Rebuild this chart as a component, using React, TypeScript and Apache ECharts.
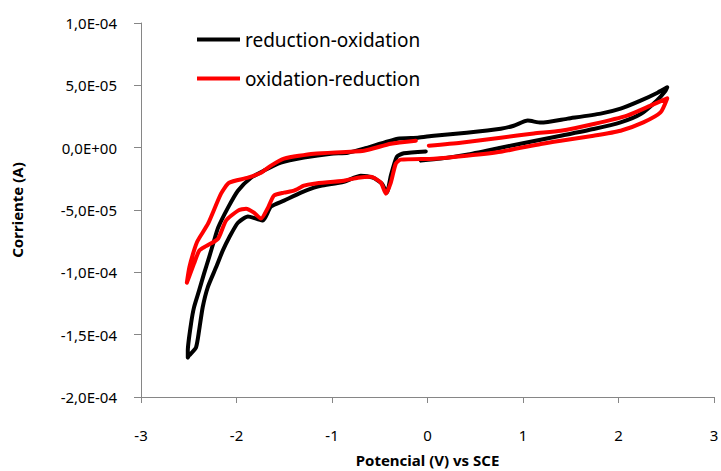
import React, { useEffect, useRef } from "react";
import * as echarts from "echarts";

// Potential (V vs SCE) and current (units of 1e-5 A)
const Y_UNIT = 1e-5;

const redoxX = [
  -0.018, -0.248, -0.321, -0.384, -0.426, -0.478, -0.572, -0.698, -0.876, -1.116, -1.19, -1.325, -1.503, -1.639, -1.723,
  -1.796, -1.88, -1.985, -2.078, -2.144, -2.214, -2.301, -2.354, -2.392, -2.424, -2.497, -2.51,
  -2.51, -2.476, -2.445, -2.392, -2.34, -2.287, -2.235, -2.193, -2.089, -1.985, -1.848, -1.712, -1.535, -1.294, -1.01,
  -0.834, -0.666, -0.311, -0.101, 0.066, 0.41, 0.767, 0.903, 1.05, 1.186, 1.468, 1.813, 2.022, 2.231, 2.409, 2.51,
  2.493, 2.4, 2.232, 2.022, 1.74, 1.395, 1.0, 0.767, 0.41, 0.139, -0.07,
];
const redoxY = [
  -0.3, -0.45, -0.72, -2.25, -3.61, -2.89, -2.41, -2.25, -2.73, -3.05, -3.21, -3.61, -4.25, -4.73, -5.85,
  -5.69, -5.53, -6.02, -7.22, -8.26, -9.6, -11.2, -12.8, -14.68, -16.02, -16.68, -16.84,
  -16.28, -14.12, -12.81, -11.47, -10.1, -8.8, -7.46, -6.42, -4.81, -3.45, -2.41, -1.84, -1.2, -0.8, -0.48,
  -0.4, -0.08, 0.72, 0.8, 0.96, 1.2, 1.52, 1.76, 2.17, 2.01, 2.33, 2.73, 3.13, 3.77, 4.41, 4.84,
  4.57, 3.77, 2.7, 2.03, 1.5, 0.96, 0.36, 0.0, -0.56, -0.88, -1.04,
];

const oxredX = [
  0.014, 0.348, 0.767, 1.113, 1.395, 1.74, 2.089, 2.336, 2.51,
  2.44, 2.26, 2.022, 1.74, 1.395, 1.186, 0.767, 0.41, 0.066, -0.279, -0.332, -0.384, -0.436, -0.488,
  -0.593, -0.729, -0.876, -1.19, -1.294, -1.399, -1.503, -1.608, -1.67, -1.744, -1.817, -1.9, -1.984, -2.11, -2.193,
  -2.319, -2.39, -2.445, -2.52,
  -2.494, -2.445, -2.406, -2.298, -2.162, -2.078, -1.88, -1.743, -1.639, -1.503, -1.19, -0.666, -0.384, -0.122,
];
const oxredY = [
  0.16, 0.4, 0.8, 1.14, 1.36, 1.9, 2.57, 3.37, 3.95,
  2.83, 2.03, 1.36, 0.96, 0.56, 0.3, -0.32, -0.64, -0.88, -0.96, -1.28, -2.81, -3.69, -2.81,
  -2.33, -2.41, -2.65, -2.89, -3.05, -3.45, -3.61, -3.85, -4.81, -5.69, -5.21, -4.89, -5.05, -5.85, -7.3,
  -7.9, -8.26, -9.3, -10.83,
  -9.6, -8.26, -7.46, -6.1, -3.69, -2.81, -2.41, -2.01, -1.44, -0.88, -0.48, -0.24, 0.32, 0.56,
];

const seriesNames = ["reduction-oxidation", "oxidation-reduction"];
const seriesColors = ["#000000", "#ff0000"];

const FONT = "'Noto Sans', sans-serif";

function sci(v: number): string {
  if (Math.abs(v) < 1e-12) return "0,0E+00";
  const exp = Math.floor(Math.log10(Math.abs(v)) + 1e-9);
  const mant = v / Math.pow(10, exp);
  const sign = exp < 0 ? "-" : "+";
  const e = String(Math.abs(exp)).padStart(2, "0");
  return mant.toFixed(1).replace(".", ",") + "E" + sign + e;
}

function pairs(xs: number[], ys: number[]) {
  return xs.map((x, i) => [x, ys[i] * Y_UNIT]);
}

export default function App() {
  const ref = useRef<HTMLDivElement>(null);
  useEffect(() => {
    if (!ref.current) return;
    const chart = echarts.init(ref.current, null, { renderer: "svg" });
    const axisColor = "#868686";
    chart.setOption({
      animation: false,
      backgroundColor: "#ffffff",
      textStyle: { fontFamily: FONT },
      grid: { left: 141, right: 7, top: 23, bottom: 74, containLabel: false, outerBoundsMode: "none" },
      legend: {
        orient: "vertical",
        left: 197,
        top: 29,
        padding: 0,
        itemGap: 18,
        itemWidth: 43,
        itemHeight: 4,
        icon: "rect",
        textStyle: { fontSize: 19, lineHeight: 21, color: "#000", fontFamily: FONT, padding: [0, 0, 0, 0] },
        data: seriesNames,
      },
      xAxis: {
        type: "value",
        min: -3,
        max: 3,
        interval: 1,
        name: "Potencial (V) vs SCE",
        nameLocation: "middle",
        nameGap: 55,
        nameTextStyle: { fontSize: 15, fontWeight: "bold", color: "#000", fontFamily: FONT },
        axisLine: { show: true, onZero: false, lineStyle: { color: axisColor, width: 1 } },
        axisTick: { show: true, inside: false, length: 6, lineStyle: { color: axisColor } },
        axisLabel: { fontSize: 15, color: "#000", margin: 30, fontFamily: FONT },
        splitLine: { show: false },
      },
      yAxis: {
        type: "value",
        min: -2e-4,
        max: 1e-4,
        interval: 5e-5,
        name: "Corriente (A)",
        nameLocation: "middle",
        nameGap: 117,
        nameTextStyle: { fontSize: 15, fontWeight: "bold", color: "#000", fontFamily: FONT },
        axisLine: { show: true, onZero: false, lineStyle: { color: axisColor, width: 1 } },
        axisTick: { show: true, inside: false, length: 7, lineStyle: { color: axisColor } },
        axisLabel: { fontSize: 15, color: "#000", margin: 24, formatter: (v: number) => sci(v), fontFamily: FONT },
        splitLine: { show: false },
      },
      series: [
        {
          name: seriesNames[0],
          type: "line",
          data: pairs(redoxX, redoxY),
          showSymbol: false,
          smooth: 0.2,
          color: seriesColors[0],
          lineStyle: { width: 4, color: seriesColors[0], cap: "round", join: "round" },
          z: 2,
        },
        {
          name: seriesNames[1],
          type: "line",
          data: pairs(oxredX, oxredY),
          showSymbol: false,
          smooth: 0.2,
          color: seriesColors[1],
          lineStyle: { width: 4, color: seriesColors[1], cap: "round", join: "round" },
          z: 3,
        },
      ],
    });
    return () => chart.dispose();
  }, []);
  return (
    <div
      ref={ref}
      style={{ position: "fixed", left: 0, top: 0, width: 721, height: 471, background: "#fff" }}
    />
  );
}
